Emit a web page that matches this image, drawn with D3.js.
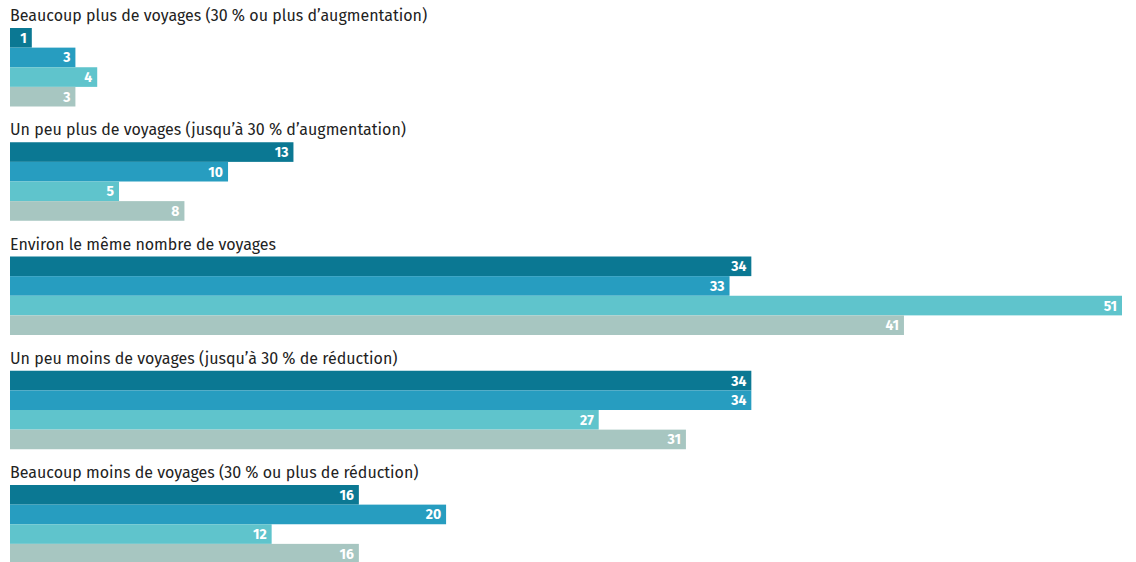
<!DOCTYPE html>
<html>
<head>
<meta charset="utf-8">
<script src="https://cdn.jsdelivr.net/npm/d3@7"></script>
<style>
  body { margin: 0; background: #fff; }
  .cat { font-family: "Fira Sans", "Open Sans", sans-serif; font-size: 16px; fill: #222; }
  .val { font-family: "Fira Sans", "Open Sans", sans-serif; font-size: 14px; font-weight: 700; fill: #fff; }
</style>
</head>
<body>
<script>
var width = 1136, height = 562;

// categories (groups, top to bottom)
const categories = [
  "Beaucoup plus de voyages (30 % ou plus d’augmentation)",
  "Un peu plus de voyages (jusqu’à 30 % d’augmentation)",
  "Environ le même nombre de voyages",
  "Un peu moins de voyages (jusqu’à 30 % de réduction)",
  "Beaucoup moins de voyages (30 % ou plus de réduction)"
];
// four series, one bar each per group
const series1 = [1, 13, 34, 34, 16];
const series2 = [3, 10, 33, 34, 20];
const series3 = [4, 5, 51, 27, 12];
const series4 = [3, 8, 41, 31, 16];
const seriesNames = ["s1", "s2", "s3", "s4"];
const colors = ["#0b7893", "#279dc0", "#5fc4cc", "#a7c6c1"];

const allSeries = [series1, series2, series3, series4];

const svg = d3.select("body").append("svg").attr("width", width).attr("height", height);

const x = d3.scaleLinear().domain([0, 51]).range([10, 1122]);
const yGroup = d3.scaleBand().domain(categories).range([0, 571.25]);
const yBar = d3.scaleBand().domain(seriesNames).range([28, 106.5]);

const g = svg.selectAll("g.group").data(categories).enter().append("g")
    .attr("class", "group")
    .attr("transform", d => "translate(0," + yGroup(d) + ")");

g.append("text").attr("class", "cat").attr("x", 10).attr("y", 21).text(d => d);

g.each(function (cat, i) {
  const rows = allSeries.map((s, j) => ({ name: seriesNames[j], v: s[i], c: colors[j] }));
  const gg = d3.select(this);
  gg.selectAll("rect").data(rows).enter().append("rect")
    .attr("x", x(0))
    .attr("y", d => yBar(d.name))
    .attr("width", d => x(d.v) - x(0))
    .attr("height", yBar.bandwidth())
    .attr("fill", d => d.c);
  gg.selectAll("text.val").data(rows).enter().append("text")
    .attr("class", "val")
    .attr("x", d => x(d.v) - 5)
    .attr("y", d => yBar(d.name) + yBar.bandwidth() / 2 + 5)
    .attr("text-anchor", "end")
    .text(d => d.v);
});
</script>
</body>
</html>
